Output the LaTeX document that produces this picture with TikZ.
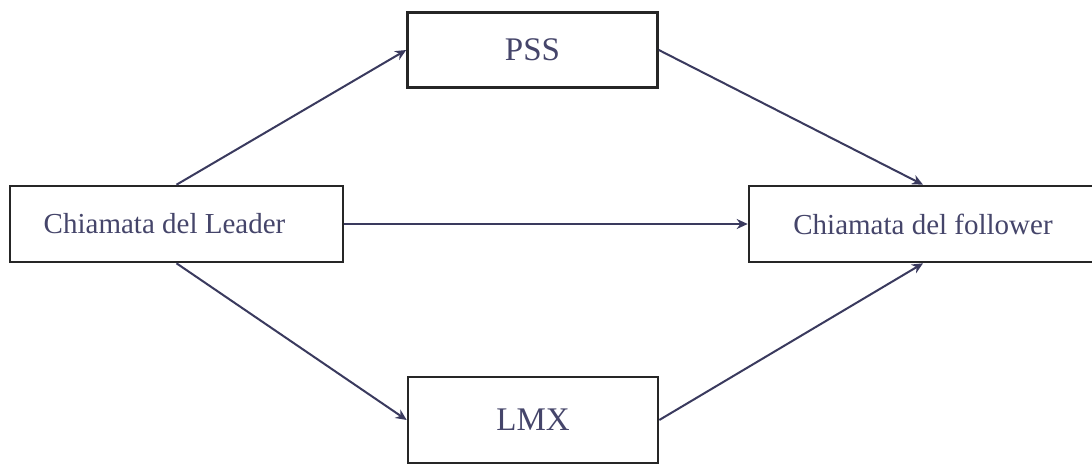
\documentclass[tikz,border=0pt]{standalone}
\usepackage{fontspec}
\setmainfont{Liberation Serif}
\usetikzlibrary{arrows.meta}
\definecolor{inkblue}{HTML}{3A3A5E}
\definecolor{textblue}{HTML}{45456A}
\definecolor{frame}{HTML}{262626}
\begin{document}
\begin{tikzpicture}[x=1pt,y=1pt,
  box/.style={draw=frame, line width=2.6pt, fill=white, inner sep=0pt,
              text=textblue, anchor=center},
  wide/.style={box, minimum width=333pt, minimum height=76pt, font=\fontsize{29}{32}\selectfont},
  narrow/.style={box, minimum width=250pt, font=\fontsize{33}{36}\selectfont},
  link/.style={draw=inkblue, line width=2pt, -{Stealth[length=11pt,width=10pt]}}]
\clip (0,0) rectangle (1092,464);
\fill[white] (0,0) rectangle (1092,464);
% nodes (y measured upwards from the bottom edge)
\node[wide] (leader) at (176.5,240) {Chiamata del Leader\hspace*{24pt}};
\node[wide, minimum width=348pt] (follower) at (923,240) {Chiamata del follower};
\node[narrow, minimum height=75pt] (pss) at (532.5,414) {PSS};
\node[narrow, minimum height=86pt] (lmx) at (533,44) {LMX};
% connectors
\draw[link] (leader.north) -- (pss.west);
\draw[link] (pss.east) -- (follower.north);
\draw[link] (leader.east) -- (follower.west);
\draw[link] (leader.south) -- (lmx.west);
\draw[link] (lmx.east) -- (follower.south);
\end{tikzpicture}
\end{document}
